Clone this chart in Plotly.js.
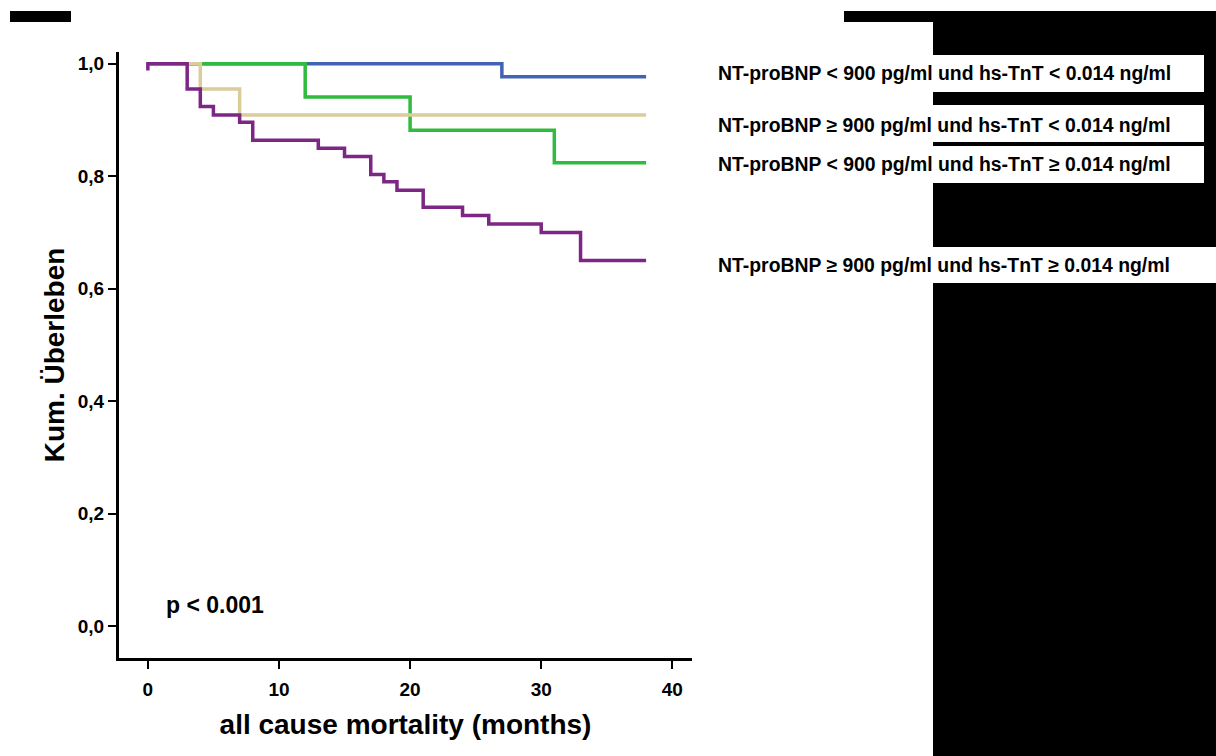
<!DOCTYPE html>
<html>
<head>
<meta charset="utf-8">
<script src="https://cdn.plot.ly/plotly-3.0.1.min.js"></script>
<style>html,body{margin:0;padding:0;background:#fff;}#chart{width:1216px;height:756px;}</style>
</head>
<body>
<div id="chart"></div>
<script>
// ---- data ----
const groupLabels = [
  "NT-proBNP < 900 pg/ml und hs-TnT < 0.014 ng/ml",
  "NT-proBNP \u2265 900 pg/ml und hs-TnT < 0.014 ng/ml",
  "NT-proBNP < 900 pg/ml und hs-TnT \u2265 0.014 ng/ml",
  "NT-proBNP \u2265 900 pg/ml und hs-TnT \u2265 0.014 ng/ml"
];
const blueTime  = [0, 27, 38];
const blueSurv  = [1.0, 0.977, 0.977];
const greenTime = [0, 12, 20, 31, 38];
const greenSurv = [1.0, 0.941, 0.882, 0.824, 0.824];
const tanTime   = [0, 4, 7, 38];
const tanSurv   = [1.0, 0.955, 0.909, 0.909];
const purpleTime = [0, 0, 3, 4, 5, 7, 8, 13, 15, 17, 18, 19, 21, 24, 26, 30, 33, 38];
const purpleSurv = [0.988, 1.0, 0.955, 0.924, 0.909, 0.896, 0.864, 0.850, 0.835, 0.803, 0.790, 0.775, 0.745, 0.730, 0.715, 0.700, 0.650, 0.650];
const xTicks = [0, 10, 20, 30, 40];
const yTicks = [0, 0.2, 0.4, 0.6, 0.8, 1.0];
const pText = "p < 0.001";
const xTitle = "all cause mortality (months)";
const yTitle = "Kum. \u00dcberleben";

// ---- layout geometry ----
const W = 1216, H = 756;
const L = 119, R = 692, T = 52, B = 658;
const px = x => (x - L) / (R - L);
const py = y => (B - y) / (B - T);
const FONT = "Liberation Sans, Arial, Helvetica, sans-serif";

const mk = (t, s, c, name) => ({
  x: t, y: s, type: 'scatter', mode: 'lines', name: name,
  line: {shape: 'hv', color: c, width: 3.5}, hoverinfo: 'x+y'
});
const traces = [
  mk(blueTime, blueSurv, '#4262b2', groupLabels[0]),
  mk(greenTime, greenSurv, '#2fbb3f', groupLabels[2]),
  mk(tanTime, tanSurv, '#d9cd9c', groupLabels[1]),
  mk(purpleTime, purpleSurv, '#7d2785', groupLabels[3])
];

const rect = (x0, y0, x1, y1, col) => ({
  type: 'rect', xref: 'paper', yref: 'paper',
  x0: px(x0), x1: px(x1), y0: py(y1), y1: py(y0),
  fillcolor: col, line: {width: 0}, layer: 'above'
});
const shapes = [
  rect(10, 11, 71, 22, '#000'),
  rect(844, 11, 1216, 22, '#000'),
  rect(933, 22, 1216, 756, '#000'),
  rect(933, 55, 1204, 92, '#fff'),
  rect(933, 105, 1204, 142, '#fff'),
  rect(933, 146, 1204, 183, '#fff'),
  rect(933, 247, 1216, 283, '#fff')
];

const legY = [73, 125, 164, 265];
const annotations = groupLabels.map((g, i) => ({
  text: g, xref: 'paper', yref: 'paper', x: px(716), y: py(legY[i]),
  xanchor: 'left', yanchor: 'middle', showarrow: false,
  font: {family: FONT, size: 19.4, color: '#000', weight: 'bold'}
}));
annotations.push({
  text: pText, xref: 'paper', yref: 'paper', x: px(164), y: py(605),
  xanchor: 'left', yanchor: 'middle', showarrow: false,
  font: {family: FONT, size: 23, color: '#000', weight: 'bold'}
});

const layout = {
  width: W, height: H,
  margin: {l: L, r: W - R, t: T, b: H - B, pad: 0},
  paper_bgcolor: '#fff', plot_bgcolor: '#fff',
  showlegend: false,
  separators: ',.',
  xaxis: {
    range: [-2.2, 41.5], tickvals: xTicks, ticktext: xTicks.map(String),
    showgrid: false, zeroline: false, showline: true, linecolor: '#000', linewidth: 3,
    ticks: 'outside', ticklen: 8, tickwidth: 2, tickcolor: '#000', ticklabelstandoff: 4,
    tickfont: {family: FONT, size: 19, color: '#000', weight: 'bold'},
    title: {text: xTitle, standoff: 16, font: {family: FONT, size: 28, color: '#000', weight: 'bold'}},
    automargin: false, fixedrange: true
  },
  yaxis: {
    range: [-0.057, 1.021], tickvals: yTicks, tickformat: '.1f',
    showgrid: false, zeroline: false, showline: true, linecolor: '#000', linewidth: 3,
    ticks: 'outside', ticklen: 8, tickwidth: 2, tickcolor: '#000',
    tickfont: {family: FONT, size: 19, color: '#000', weight: 'bold'},
    title: {text: yTitle, standoff: 5, font: {family: FONT, size: 28, color: '#000', weight: 'bold'}},
    automargin: false, fixedrange: true
  },
  shapes: shapes,
  annotations: annotations
};

Plotly.newPlot('chart', traces, layout, {displayModeBar: false, staticPlot: true});
</script>
</body>
</html>
